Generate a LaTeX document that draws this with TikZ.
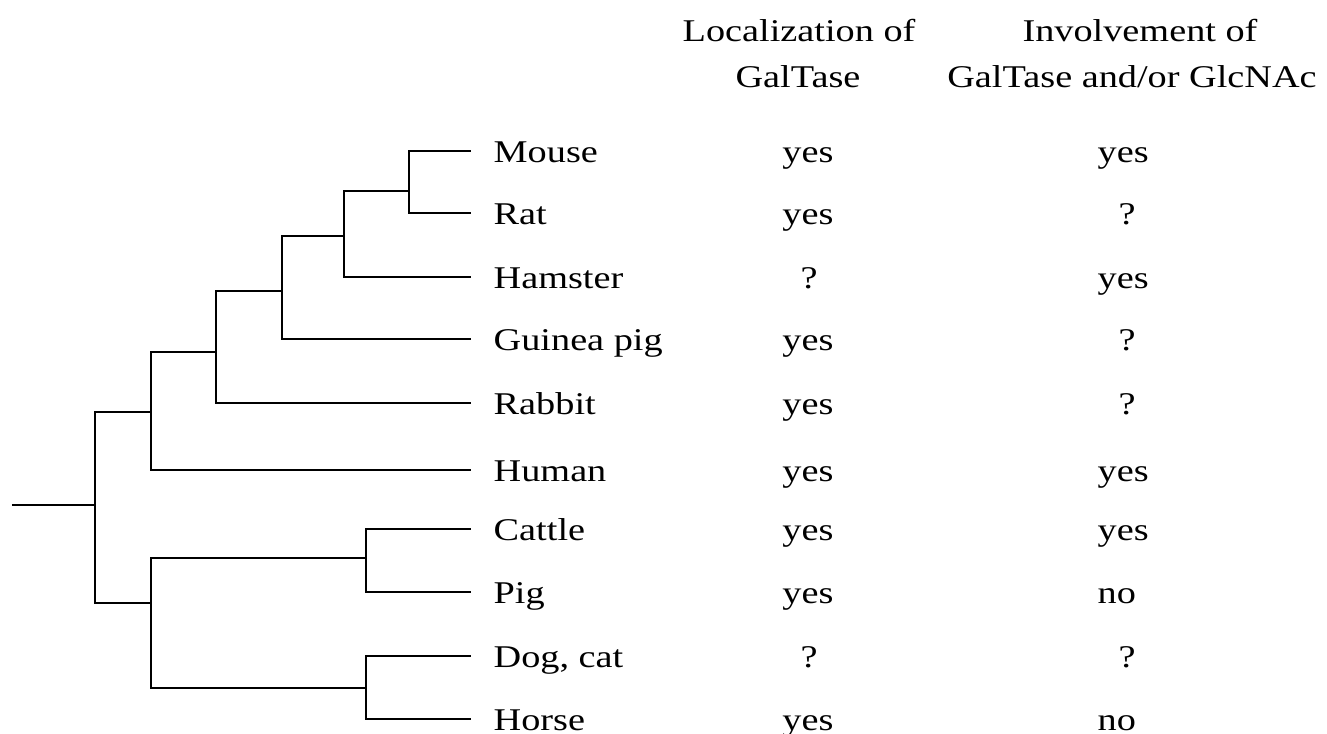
\documentclass[tikz,border=0pt]{standalone}
\usepackage{fontspec}
\setmainfont[FakeStretch=1.21]{Liberation Serif}
\usetikzlibrary{positioning}

\tikzset{
    taxon/.style={anchor=west, inner xsep=0.22cm, inner ysep=0pt, text height=0.25cm, text depth=0.01cm},
    entry/.style={inner sep=0pt, text height=0.25cm, text depth=0.01cm},
    colhead/.style={anchor=base, inner sep=0pt},
    branch/.style={line width=0.75pt}
}

\begin{document}
\begin{tikzpicture}[font=\fontsize{9}{11}\selectfont]
        \useasboundingbox (0,0) rectangle (13.27,-7.34);
        % column heads
        \node[colhead] (loc1) at (7.99,-0.42) {Localization of};
        \node[colhead] (loc2) at (7.98,-0.88) {GalTase};
        \node[colhead] (inv1) at (11.40,-0.42) {Involvement of};
        \node[colhead] (inv2) at (11.32,-0.88) {GalTase and/or GlcNAc};
        % taxa
        \node[taxon] (mouse) at (4.71,-1.51) {Mouse};
        \node[taxon] (rat) at (4.71,-2.13) {Rat};
        \node[taxon] (hamster) at (4.71,-2.77) {Hamster};
        \node[taxon] (guinea) at (4.71,-3.39) {Guinea pig};
        \node[taxon] (rabbit) at (4.71,-4.03) {Rabbit};
        \node[taxon] (human) at (4.71,-4.70) {Human};
        \node[taxon] (cattle) at (4.71,-5.29) {Cattle};
        \node[taxon] (pig) at (4.71,-5.92) {Pig};
        \node[taxon] (dog) at (4.71,-6.56) {Dog, cat};
        \node[taxon] (horse) at (4.71,-7.19) {Horse};
        % localization
        \node[entry] (loc-mouse) at (8.08,-1.51) {yes};
        \node[entry] (loc-rat) at (8.08,-2.13) {yes};
        \node[entry] (loc-hamster) at (8.09,-2.77) {?};
        \node[entry] (loc-guinea) at (8.08,-3.39) {yes};
        \node[entry] (loc-rabbit) at (8.08,-4.03) {yes};
        \node[entry] (loc-human) at (8.08,-4.70) {yes};
        \node[entry] (loc-cattle) at (8.08,-5.29) {yes};
        \node[entry] (loc-pig) at (8.08,-5.92) {yes};
        \node[entry] (loc-dog) at (8.09,-6.56) {?};
        \node[entry] (loc-horse) at (8.08,-7.19) {yes};
        % involvement
        \node[entry, anchor=west] (inv-mouse) at (10.97,-1.51) {yes};
        \node[entry] (inv-rat) at (11.27,-2.13) {?};
        \node[entry, anchor=west] (inv-hamster) at (10.97,-2.77) {yes};
        \node[entry] (inv-guinea) at (11.27,-3.39) {?};
        \node[entry] (inv-rabbit) at (11.27,-4.03) {?};
        \node[entry, anchor=west] (inv-human) at (10.97,-4.70) {yes};
        \node[entry, anchor=west] (inv-cattle) at (10.97,-5.29) {yes};
        \node[entry, anchor=west] (inv-pig) at (10.97,-5.92) {no};
        \node[entry] (inv-dog) at (11.27,-6.56) {?};
        \node[entry, anchor=west] (inv-horse) at (10.97,-7.19) {no};
        % inner nodes of the tree
        \coordinate (mr) at (4.09,-1.91);
        \coordinate (mrh) at (3.44,-2.36);
        \coordinate (mrhg) at (2.82,-2.91);
        \coordinate (glires) at (2.16,-3.52);
        \coordinate (euarch) at (1.51,-4.12);
        \coordinate (cp) at (3.66,-5.58);
        \coordinate (dh) at (3.66,-6.88);
        \coordinate (laur) at (1.51,-6.03);
        \coordinate (root) at (0.95,-5.05);
        \coordinate (stem) at (0.12,-5.05);
        % branches
        \draw[branch] (mr) |- (mouse.west);
        \draw[branch] (mr) |- (rat.west);
        \draw[branch] (mrh) |- (mr);
        \draw[branch] (mrh) |- (hamster.west);
        \draw[branch] (mrhg) |- (mrh);
        \draw[branch] (mrhg) |- (guinea.west);
        \draw[branch] (glires) |- (mrhg);
        \draw[branch] (glires) |- (rabbit.west);
        \draw[branch] (euarch) |- (glires);
        \draw[branch] (euarch) |- (human.west);
        \draw[branch] (cp) |- (cattle.west);
        \draw[branch] (cp) |- (pig.west);
        \draw[branch] (dh) |- (dog.west);
        \draw[branch] (dh) |- (horse.west);
        \draw[branch] (laur) |- (cp);
        \draw[branch] (laur) |- (dh);
        \draw[branch] (root) |- (euarch);
        \draw[branch] (root) |- (laur);
        \draw[branch] (stem) -- (root);
    \end{tikzpicture}
\end{document}
